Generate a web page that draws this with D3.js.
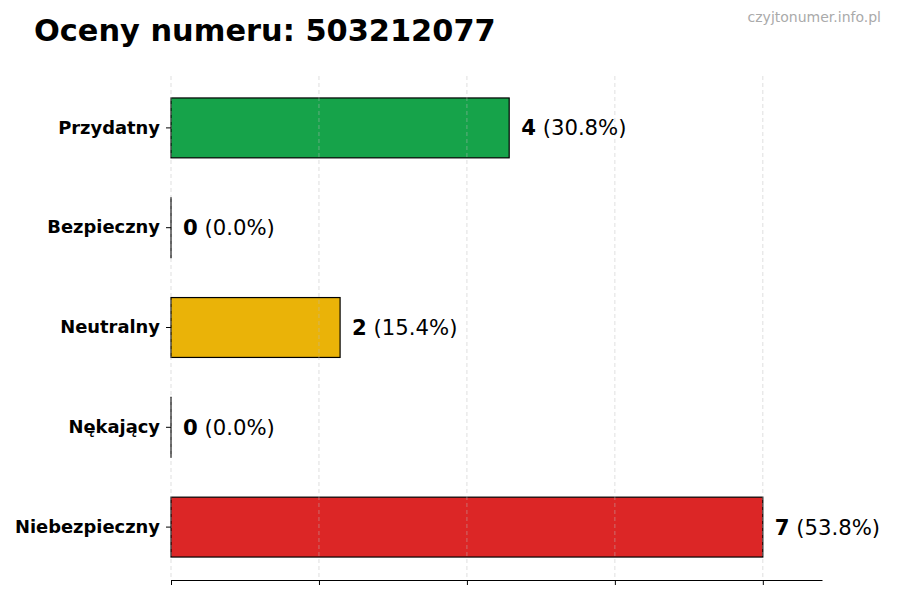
<!DOCTYPE html>
<html>
<head>
<meta charset="utf-8">
<script src="https://cdn.jsdelivr.net/npm/d3@7"></script>
<style>
  body { margin: 0; background: #fff; }
  svg text { font-family: "DejaVu Sans", sans-serif; }
</style>
</head>
<body>
<div id="chart"></div>
<script>
const categories = ["Przydatny", "Bezpieczny", "Neutralny", "Nękający", "Niebezpieczny"];
const counts = [4, 0, 2, 0, 7];
const percents = ["30.8%", "0.0%", "15.4%", "0.0%", "53.8%"];
const colors = ["#16a34a", "#2563eb", "#eab308", "#f97316", "#dc2626"];
const gridTicks = [0, 1.75, 3.5, 5.25, 7];

const width = 900, height = 600;
const margin = { top: 76, right: 78, bottom: 20, left: 171 };

const svg = d3.select("#chart").append("svg")
  .attr("width", width).attr("height", height);

const x = d3.scaleLinear().domain([0, 7.7]).range([margin.left, width - margin.right]);
const y = d3.scaleBand().domain(categories).range([78, 577])
  .paddingInner(0.4).paddingOuter(0.2);
const axisY = 580;

svg.append("text")
  .attr("x", 34).attr("y", 41)
  .attr("font-size", 30.4).attr("font-weight", "bold")
  .text("Oceny numeru: 503212077");

svg.append("text")
  .attr("x", 881).attr("y", 22)
  .attr("text-anchor", "end")
  .attr("font-size", 14).attr("fill", "#aaa")
  .text("czyjtonumer.info.pl");

// bars (tiny width keeps the edge of zero bars visible)
svg.append("g").selectAll("rect")
  .data(categories)
  .join("rect")
  .attr("x", x(0))
  .attr("y", d => y(d))
  .attr("width", (d, i) => Math.max(x(counts[i]) - x(0), 0.01))
  .attr("height", y.bandwidth())
  .attr("fill", (d, i) => colors[i])
  .attr("stroke", "#000")
  .attr("stroke-width", 1.2);

// grid on top (faint)
svg.append("g").selectAll("line")
  .data(gridTicks)
  .join("line")
  .attr("x1", d => x(d)).attr("x2", d => x(d))
  .attr("y1", margin.top).attr("y2", axisY)
  .attr("stroke", "#bbb").attr("stroke-opacity", 0.6)
  .attr("stroke-dasharray", "4,3").attr("stroke-width", 0.8);

// bottom axis
const xAxis = svg.append("g")
  .attr("transform", `translate(0,${axisY})`)
  .call(d3.axisBottom(x).tickValues(gridTicks).tickFormat("").tickSize(5).tickSizeOuter(0));
xAxis.select(".domain").attr("stroke", "#000").attr("stroke-width", 1.2);
xAxis.selectAll(".tick line").attr("stroke", "#000").attr("stroke-width", 1);

// left axis (ticks and labels only)
const yAxis = svg.append("g")
  .attr("transform", `translate(${x(0)},0)`)
  .call(d3.axisLeft(y).tickSize(5).tickPadding(6));
yAxis.select(".domain").remove();
yAxis.selectAll(".tick line").attr("stroke", "#000");
yAxis.selectAll(".tick text")
  .attr("font-size", 17.9).attr("font-weight", "bold").attr("fill", "#000")
  .attr("font-family", "DejaVu Sans, sans-serif");

// value labels
const lbl = svg.append("g").selectAll("text")
  .data(categories)
  .join("text")
  .attr("x", (d, i) => x(counts[i]) + 12)
  .attr("y", d => y(d) + y.bandwidth() / 2)
  .attr("dy", "0.35em")
  .attr("font-size", 21.2);
lbl.append("tspan").attr("font-weight", "bold").text((d, i) => counts[i]);
lbl.append("tspan").text((d, i) => " (" + percents[i] + ")");
</script>
</body>
</html>
